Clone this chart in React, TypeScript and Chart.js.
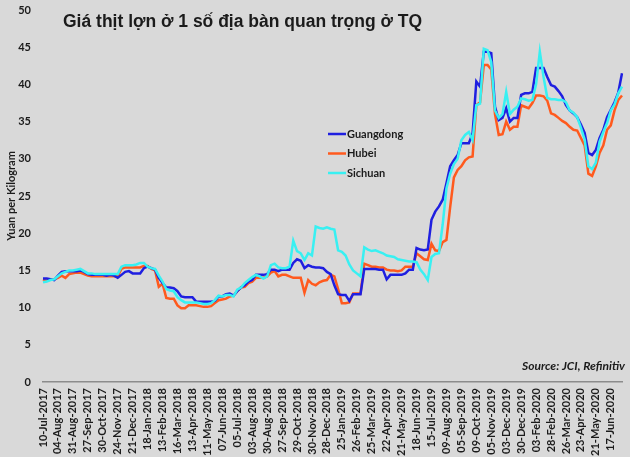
import React, { useEffect, useRef } from "react";
import { Chart, registerables } from "chart.js";

Chart.register(...registerables);

const TITLE = "Giá thịt lợn ở 1 số địa bàn quan trọng ở TQ";
const Y_TITLE = "Yuan per Kilogram";
const SOURCE = "Source: JCI, Refinitiv";

const TICK_LABELS = [
  "10-Jul-2017", "04-Aug-2017", "31-Aug-2017", "27-Sep-2017", "30-Oct-2017",
  "24-Nov-2017", "21-Dec-2017", "18-Jan-2018", "13-Feb-2018", "16-Mar-2018",
  "13-Apr-2018", "11-May-2018", "07-Jun-2018", "05-Jul-2018", "03-Aug-2018",
  "30-Aug-2018", "27-Sep-2018", "29-Oct-2018", "30-Nov-2018", "28-Dec-2018",
  "25-Jan-2019", "26-Feb-2019", "25-Mar-2019", "22-Apr-2019", "21-May-2019",
  "18-Jun-2019", "15-Jul-2019", "09-Aug-2019", "05-Sep-2019", "09-Oct-2019",
  "05-Nov-2019", "03-Dec-2019", "30-Dec-2019", "03-Feb-2020", "28-Feb-2020",
  "26-Mar-2020", "23-Apr-2020", "21-May-2020", "17-Jun-2020",
];
const POINTS_PER_TICK = 4;

const SERIES_NAMES = ["Guangdong", "Hubei", "Sichuan"];
const SERIES_COLORS = ["#1f1fe0", "#ff5a1e", "#38f0f2"];

const GUANGDONG = [
  13.9, 13.9, 13.8, 13.7, 14.3, 14.8, 14.9, 14.9, 14.9, 14.9,
  15.0, 14.8, 14.5, 14.4, 14.4, 14.4, 14.4, 14.3, 14.4, 14.3,
  14.0, 14.4, 14.8, 14.9, 14.6, 14.6, 14.6, 15.3, 15.5, 15.3,
  15.1, 14.0, 13.3, 12.7, 12.7, 12.6, 12.2, 11.5, 11.4, 11.4,
  11.4, 10.8, 10.8, 10.8, 10.8, 10.8, 10.9, 11.5, 11.5, 11.8,
  11.9, 11.6, 12.2, 12.7, 13.0, 13.5, 13.7, 14.4, 14.4, 14.4,
  14.5, 15.1, 15.1, 14.9, 15.1, 15.1, 15.1, 16.0, 16.5, 16.3,
  15.3, 15.7, 15.5, 15.4, 15.4, 15.3, 14.8, 14.5, 13.0, 11.8,
  11.7, 11.7, 10.9, 11.8, 11.8, 11.8, 15.2, 15.2, 15.2, 15.2,
  15.1, 15.1, 13.8, 14.4, 14.4, 14.4, 14.4, 14.6, 15.1, 15.1,
  18.0, 17.8, 17.7, 17.8, 21.8, 22.9, 23.6, 24.5, 26.7, 29.0,
  29.8, 30.5, 32.1, 32.1, 32.1, 33.4, 40.4, 39.7, 44.4, 44.4,
  44.2, 37.0, 35.2, 35.5, 36.8, 35.0, 35.5, 35.5, 38.6, 38.8,
  38.8, 39.0, 42.2, 42.2, 42.2, 41.0, 39.9, 39.7, 39.1, 38.4,
  37.2, 36.5, 36.1, 35.6, 34.6, 33.5, 30.8, 30.5, 31.2, 32.8,
  33.9, 35.6, 36.6, 37.6, 38.9, 41.5,
];

const HUBEI = [
  13.8, 13.6, 13.8, 13.8, 14.0, 14.3, 14.0, 14.5, 14.6, 14.7,
  14.7, 14.5, 14.3, 14.2, 14.2, 14.2, 14.2, 14.2, 14.2, 14.2,
  14.2, 15.2, 15.4, 15.4, 15.4, 15.4, 15.4, 15.6, 15.6, 15.2,
  15.0, 12.8, 13.2, 11.3, 11.2, 11.2, 10.3, 9.9, 9.9, 10.3,
  10.3, 10.3, 10.2, 10.1, 10.1, 10.2, 10.6, 11.0, 11.1, 11.2,
  11.5, 11.6, 12.2, 12.7, 12.8, 13.3, 13.5, 14.0, 14.0, 14.0,
  14.2, 14.7, 14.9, 14.2, 14.4, 14.4, 14.2, 14.0, 14.0, 14.0,
  12.0, 13.7, 13.2, 13.0, 13.4, 13.6, 13.7, 14.4, 14.2, 12.5,
  10.6, 10.6, 10.7, 11.9, 11.9, 11.9, 15.9, 15.7, 15.5, 15.5,
  15.4, 15.4, 15.1, 15.0, 15.0, 14.9, 15.0, 15.5, 15.5, 15.5,
  17.3, 16.9, 16.5, 16.4, 18.6, 17.7, 17.6, 18.8, 19.1, 23.5,
  27.5, 28.5, 29.0, 29.8, 30.2, 30.3, 37.2, 37.6, 42.6, 42.6,
  42.0, 36.0, 33.2, 33.3, 35.0, 33.9, 34.3, 34.3, 37.2, 37.0,
  36.8, 37.5, 38.5, 38.5, 38.4, 37.8, 36.1, 35.9, 35.5, 35.1,
  34.8, 34.3, 33.9, 33.8, 32.8, 31.8, 28.0, 27.7, 29.0, 30.8,
  31.8, 33.9, 34.5, 36.5, 37.9, 38.5,
];

const SICHUAN = [
  13.4, 13.5, 13.7, 13.8, 14.2, 14.6, 14.8, 15.0, 15.0, 15.1,
  15.2, 14.9, 14.6, 14.6, 14.5, 14.5, 14.5, 14.5, 14.5, 14.5,
  14.5, 15.5, 15.7, 15.7, 15.7, 15.8, 16.0, 16.0, 15.5, 15.3,
  15.2, 14.3, 13.5, 12.5, 12.3, 12.2, 11.4, 11.0, 10.7, 10.7,
  10.7, 10.7, 10.6, 10.5, 10.5, 10.6, 11.0, 11.6, 11.5, 11.7,
  11.7, 11.5, 12.4, 12.7, 13.3, 13.7, 14.1, 14.4, 14.2, 13.9,
  14.2, 15.7, 15.9, 15.4, 15.3, 15.3, 15.5, 19.0, 17.6, 17.3,
  16.4, 17.3, 17.0, 20.9, 20.7, 20.6, 20.8, 20.6, 20.5, 17.7,
  17.5, 17.0, 15.8, 15.0, 14.6, 14.2, 18.1, 17.8, 17.6, 17.7,
  17.5, 17.3, 17.0, 16.9, 16.8, 16.5, 16.4, 16.3, 16.2, 16.2,
  16.1, 15.1, 14.5, 13.7, 16.8, 17.2, 17.3, 21.2, 26.0, 28.0,
  29.3, 30.0, 32.5, 33.2, 33.6, 32.5, 37.2, 37.4, 44.8, 44.6,
  43.0, 36.5, 35.5, 36.0, 39.0, 36.0, 36.6, 37.0, 38.1, 38.0,
  37.8, 37.9, 40.0, 44.4, 41.0, 38.2, 38.0, 38.0, 37.9, 37.9,
  37.6, 36.5, 36.2, 35.6, 34.2, 32.6, 29.0, 28.6, 29.5, 32.3,
  33.6, 34.8, 36.5, 37.3, 38.8, 39.7,
];

const SERIES = [GUANGDONG, HUBEI, SICHUAN];
const DRAW_ORDER = [1, 2, 0];

const BG = "#d9d9d9";
const TEXT = "#1b1b1b";
const FONT = "Lato, 'Open Sans', sans-serif";

const decorPlugin = {
  id: "decor",
  beforeDraw(chart: any) {
    const ctx = chart.ctx;
    ctx.save();
    ctx.fillStyle = BG;
    ctx.fillRect(0, 0, chart.width, chart.height);
    ctx.restore();
  },
  afterDraw(chart: any) {
    const ctx = chart.ctx;
    ctx.save();
    ctx.fillStyle = TEXT;
    ctx.textAlign = "left";
    ctx.textBaseline = "alphabetic";
    ctx.font = "bold 17.5px 'Liberation Sans', Arial, sans-serif";
    ctx.fillText(TITLE, 63, 27);

    chart.data.datasets.forEach((ds: any, k: number) => {
      const y = 134 + k * 19.5;
      ctx.strokeStyle = ds.borderColor;
      ctx.lineWidth = 2.5;
      ctx.beginPath();
      ctx.moveTo(328, y);
      ctx.lineTo(346, y);
      ctx.stroke();
      ctx.fillStyle = TEXT;
      ctx.font = `bold 11px ${FONT}`;
      ctx.textBaseline = "middle";
      ctx.fillText(ds.label, 347, y);
    });

    ctx.font = `italic bold 12px ${FONT}`;
    ctx.textAlign = "right";
    ctx.textBaseline = "middle";
    ctx.fillText(SOURCE, 625, 366);
    ctx.restore();
  },
};

export default function App() {
  const ref = useRef<HTMLCanvasElement | null>(null);

  useEffect(() => {
    if (!ref.current) return;
    const labels = GUANGDONG.map((_, i) =>
      i % POINTS_PER_TICK === 0 ? TICK_LABELS[i / POINTS_PER_TICK] ?? "" : ""
    );
    const tickFont = { family: FONT, size: 11, weight: "bold" as const };
    const chart = new Chart(ref.current, {
      type: "line",
      data: {
        labels,
        datasets: SERIES.map((s, k) => ({
          label: SERIES_NAMES[k],
          data: s,
          borderColor: SERIES_COLORS[k],
          backgroundColor: SERIES_COLORS[k],
          borderWidth: 2.5,
          pointRadius: 0,
          tension: 0,
          fill: false,
          order: DRAW_ORDER[k],
        })),
      },
      options: {
        animation: false,
        responsive: false,
        layout: { padding: { top: 10, right: 8, left: 0, bottom: 0 } },
        plugins: {
          legend: { display: false },
          tooltip: { enabled: false },
          title: { display: false },
        },
        scales: {
          x: {
            type: "category",
            offset: false,
            grid: { display: false, drawTicks: false },
            border: { display: true, color: "#8c8c8c", width: 1.5 },
            ticks: {
              autoSkip: false,
              maxRotation: 90,
              minRotation: 90,
              padding: 6,
              font: tickFont,
              color: TEXT,
            },
            afterFit: (s: any) => {
              s.height = 75;
              s.paddingLeft = 0;
              s.paddingRight = 0;
            },
          } as any,
          y: {
            min: 0,
            max: 50,
            grid: { display: false, drawTicks: false },
            border: { display: false },
            ticks: { stepSize: 5, padding: 12, font: tickFont, color: TEXT },
            title: {
              display: true,
              text: Y_TITLE,
              font: tickFont,
              color: TEXT,
              padding: { top: 5, bottom: 0 },
            },
            afterFit: (s: any) => {
              s.width = 43;
              s.paddingTop = 0;
              s.paddingBottom = 0;
            },
          } as any,
        },
      },
      plugins: [decorPlugin],
    });
    return () => chart.destroy();
  }, []);

  return (
    <div style={{ position: "absolute", left: 0, top: 0, width: 630, height: 457 }}>
      <canvas ref={ref} width={630} height={457} style={{ display: "block" }} />
    </div>
  );
}
